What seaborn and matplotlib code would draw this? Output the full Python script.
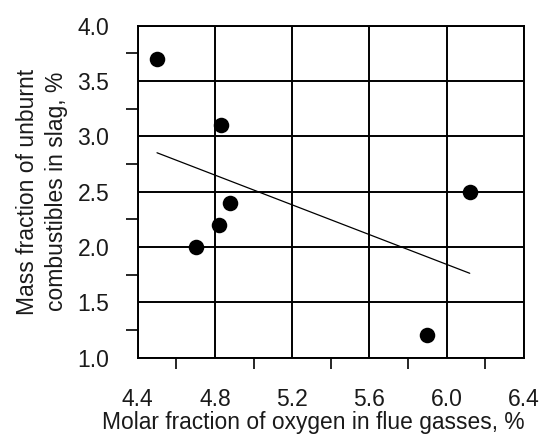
import matplotlib
matplotlib.use("Agg")
import matplotlib.pyplot as plt
import seaborn as sns
import numpy as np
import pandas as pd
from matplotlib.ticker import MultipleLocator, FormatStrFormatter

# data
oxygen = [4.50, 4.70, 4.82, 4.83, 4.88, 5.90, 6.12]
unburnt = [3.70, 2.00, 2.20, 3.10, 2.40, 1.20, 2.50]
x_ticks = [4.4, 4.8, 5.2, 5.6, 6.0, 6.4]
y_ticks = [1.0, 1.5, 2.0, 2.5, 3.0, 3.5, 4.0]
x_label = "Molar fraction of oxygen in flue gasses, %"
y_label = "Mass fraction of unburnt\ncombustibles in slag, %"

sns.set_style("white")
plt.rcParams['font.family'] = ['Liberation Sans', 'DejaVu Sans']

df = pd.DataFrame({"oxygen": oxygen, "unburnt": unburnt})

fig = plt.figure(figsize=(5.4, 4.34), dpi=100)
ax = fig.add_axes([0.255, 0.176, 0.715, 0.765])

sns.regplot(data=df, x="oxygen", y="unburnt", ci=None, truncate=True, ax=ax,
            scatter_kws={"s": 125, "color": "black", "edgecolor": "black", "linewidths": 0, "zorder": 4, "alpha": 1},
            line_kws={"color": "black", "lw": 0.9, "zorder": 3})

ax.set_xlim(4.4, 6.4)
ax.set_ylim(1.0, 4.0)
ax.set_xticks(x_ticks)
ax.set_yticks(y_ticks)
ax.xaxis.set_minor_locator(MultipleLocator(0.2))
ax.yaxis.set_minor_locator(MultipleLocator(0.25))
ax.xaxis.set_major_formatter(FormatStrFormatter("%.1f"))
ax.yaxis.set_major_formatter(FormatStrFormatter("%.1f"))

ax.grid(True, which="major", color="black", lw=1.4)
ax.set_axisbelow(True)
for s in ax.spines.values():
    s.set_color("black")
    s.set_linewidth(1.4)
    s.set_visible(True)

ax.tick_params(axis="x", which="major", direction="out", length=10, width=1.4, pad=12,
               labelsize=16.5, color="black", labelcolor="#1a1a1a")
ax.tick_params(axis="x", which="minor", direction="out", length=8, width=1.4, bottom=True)
ax.tick_params(axis="y", which="major", direction="out", length=8.5, width=1.4, pad=12,
               labelsize=16.5, color="black", labelcolor="#1a1a1a")
ax.tick_params(axis="y", which="minor", direction="out", length=8.5, width=1.4, left=True)

ax.set_xlabel(x_label, fontsize=16.4, labelpad=0, color="#1a1a1a")
ax.xaxis.set_label_coords(0.455, -0.162)
ax.xaxis.label.set_va("top")
ax.set_ylabel(y_label, fontsize=16.5, labelpad=7, color="#1a1a1a", linespacing=1.3)

fig.savefig("out.png", dpi=100)
